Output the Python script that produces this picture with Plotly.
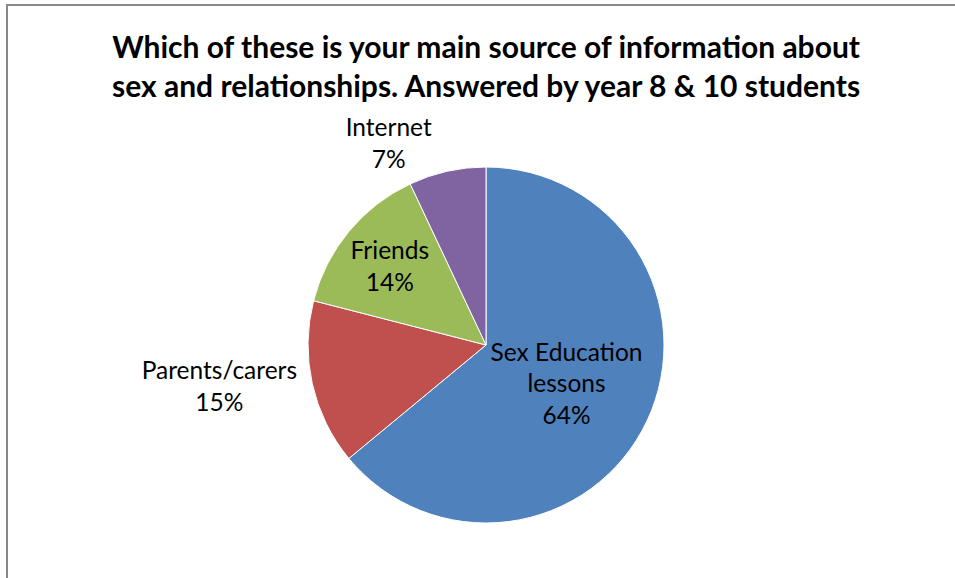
import plotly.graph_objects as go

labels = ["Sex Education lessons", "Parents/carers", "Friends", "Internet"]
shown = ["Sex Education<br>lessons", "Parents/carers", "Friends", "Internet"]
values = [64, 15, 14, 7]
colors = ["#4F81BD", "#C0504D", "#9BBB59", "#8064A2"]
positions = ["inside", "outside", "inside", "outside"]

W, H = 955, 578
cx, cy, r = 486, 345, 178

fig = go.Figure()
fig.add_trace(go.Pie(
    labels=labels, values=values, text=shown,
    sort=False, direction="clockwise", rotation=0,
    marker=dict(colors=colors, line=dict(color="white", width=1)),
    texttemplate="%{text}<br>%{value}%", textposition=positions,
    insidetextorientation="horizontal",
    textfont=dict(family="Lato", size=24.5, color="black"),
    domain=dict(x=[(cx - r) / W, (cx + r) / W], y=[1 - (cy + r) / H, 1 - (cy - r) / H]),
    showlegend=False, hoverinfo="label+percent",
))

fig.update_layout(
    width=W, height=H,
    margin=dict(l=0, r=0, t=0, b=0),
    paper_bgcolor="white",
    title=dict(
        text="<b>Which of these is your main source of information about<br>sex and relationships. Answered by year 8 &amp; 10 students</b>",
        x=0.509, xanchor="center", y=1 - 58 / H, yanchor="middle",
        font=dict(family="Lato", size=30, color="black"),
    ),
    shapes=[dict(type="rect", xref="paper", yref="paper",
                 x0=7 / W, x1=1.05, y0=-0.05, y1=1 - 5 / H,
                 line=dict(color="#888888", width=2))],
)

fig.write_html("out.html", config={"displayModeBar": False},
               post_script="document.body.style.margin='0';")
